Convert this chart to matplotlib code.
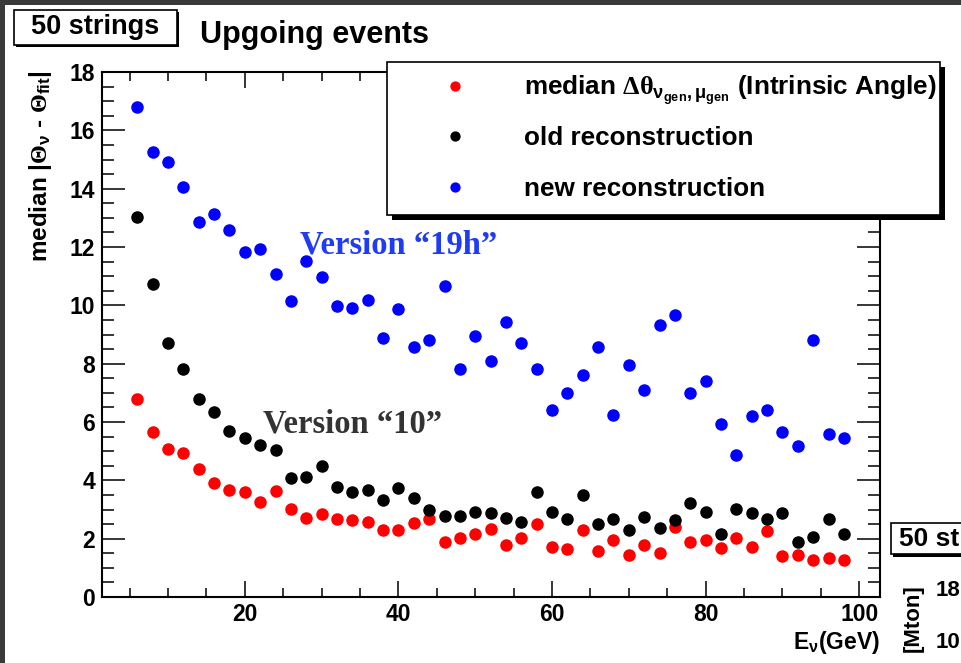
import numpy as np
import matplotlib; matplotlib.use("Agg")
import matplotlib.pyplot as plt
from matplotlib.patches import Rectangle
from matplotlib.ticker import MultipleLocator

plt.rcParams['font.family'] = ['Liberation Sans', 'DejaVu Sans']
plt.rcParams['font.weight'] = 'bold'
plt.rcParams['mathtext.fontset'] = 'custom'
plt.rcParams['mathtext.rm'] = 'Liberation Sans:bold'
plt.rcParams['mathtext.it'] = 'Liberation Sans:bold'
plt.rcParams['mathtext.bf'] = 'Liberation Sans:bold'
plt.rcParams['mathtext.sf'] = 'Liberation Serif'

# --- data ---
energy = list(range(6, 100, 2))   # E_nu (GeV)

intrinsic = [6.79, 5.65, 5.07, 4.93, 4.40, 3.92, 3.67, 3.59, 3.26, 3.63,
             3.01, 2.72, 2.83, 2.67, 2.63, 2.58, 2.30, 2.30, 2.54, 2.67,
             1.88, 2.01, 2.17, 2.34, 1.77, 2.01, 2.49, 1.72, 1.64, 2.30,
             1.59, 1.97, 1.44, 1.77, 1.50, 2.40, 1.88, 1.97, 1.68, 2.01,
             1.72, 2.25, 1.40, 1.44, 1.26, 1.35, 1.26]

old_reco = [13.02, 10.72, 8.72, 7.81, 6.80, 6.35, 5.70, 5.45, 5.22, 5.03,
            4.08, 4.12, 4.50, 3.78, 3.59, 3.68, 3.31, 3.74, 3.39, 2.98,
            2.78, 2.78, 2.91, 2.88, 2.72, 2.58, 3.59, 2.93, 2.69, 3.50,
            2.49, 2.69, 2.30, 2.73, 2.36, 2.64, 3.21, 2.93, 2.17, 3.02,
            2.88, 2.67, 2.88, 1.88, 2.06, 2.69, 2.17]

new_reco = [16.80, 15.27, 14.92, 14.07, 12.87, 13.12, 12.58, 11.82, 11.92, 11.06,
            10.15, 11.53, 10.96, 9.97, 9.92, 10.19, 8.87, 9.86, 8.58, 8.81,
            10.67, 7.81, 8.95, 8.09, 9.43, 8.72, 7.81, 6.41, 6.98, 7.61,
            8.58, 6.23, 7.95, 7.09, 9.32, 9.67, 6.99, 7.42, 5.93, 4.88,
            6.22, 6.41, 5.65, 5.18, 8.81, 5.60, 5.46]

labels = [r"median $\mathsf{\Delta\theta}_{\nu_{gen},\mu_{gen}}$ (Intrinsic Angle)",
          "old reconstruction", "new reconstruction"]
colors = ["#ff0000", "#000000", "#0000ff"]

W, H = 961, 663
fig = plt.figure(figsize=(W / 100, H / 100), dpi=100)
fig.patch.set_facecolor("white")

def fx(px): return px / W
def fy(py): return 1 - py / H

ax = fig.add_axes([fx(102), fy(597), fx(880) - fx(102), fy(72) - fy(597)])

handles = []
for vals, c, lab in zip([intrinsic, old_reco, new_reco], colors, labels):
    h, = ax.plot(energy, vals, "o", ms=8, color=c, mec=c, ls="none", label=lab)
    handles.append(h)

ax.set_xlim(1.4, 102.7)
ax.set_ylim(0, 18)
ax.xaxis.set_major_locator(MultipleLocator(20))
ax.xaxis.set_minor_locator(MultipleLocator(5))
ax.yaxis.set_major_locator(MultipleLocator(2))
ax.yaxis.set_minor_locator(MultipleLocator(0.5))
ax.tick_params(which="both", direction="in", top=True, right=True, width=1.1,
               labelsize=16.5, pad=5)
ax.tick_params(axis="x", pad=4)
ax.tick_params(axis="y", which="major", length=16.5)
ax.tick_params(axis="y", which="minor", length=8.6)
ax.tick_params(axis="x", which="major", length=11.5)
ax.tick_params(axis="x", which="minor", length=6.5)
for lab in ax.get_xticklabels() + ax.get_yticklabels():
    lab.set_fontweight("bold")
for s in ax.spines.values():
    s.set_linewidth(1.5)

ax.text(27.2, 12.07, "Version \u201c19h\u201d", color="#1f3cf5", fontsize=23.5,
        family="Liberation Serif", weight="bold", va="center", ha="left")
ax.text(22.3, 5.93, "Version \u201c10\u201d", color="#333333", fontsize=23.5,
        family="Liberation Serif", weight="bold", va="center", ha="left")

# axis titles (ROOT style)
fig.text(fx(880), fy(643), r"E$_{\nu}$(GeV)", ha="right", va="center", fontsize=16.5)
fig.text(fx(41), fy(70), r"median |$\mathsf{\Theta}_{\nu}$ - $\mathsf{\Theta}_{fit}$|",
         rotation=90, ha="center", va="top", fontsize=17.5)

# title and label boxes
fig.text(fx(200), fy(35), "Upgoing events", ha="left", va="center", fontsize=22)
fig.patches.append(Rectangle((fx(16), fy(47)), fx(163), fy(10) - fy(47) - 0.003,
                             transform=fig.transFigure, facecolor="black", zorder=1))
fig.patches.append(Rectangle((fx(14), fy(45)), fx(163), fy(10) - fy(45),
                             transform=fig.transFigure, facecolor="white",
                             edgecolor="black", lw=1.2, zorder=2))
fig.text(fx(95), fy(27), "50 strings", ha="center", va="center", fontsize=19.5, zorder=3)

# legend box with shadow
fig.patches.append(Rectangle((fx(392), fy(220)), fx(553), fy(67) - fy(220),
                             transform=fig.transFigure, facecolor="black", zorder=4))
fig.patches.append(Rectangle((fx(387), fy(215)), fx(553), fy(62) - fy(215),
                             transform=fig.transFigure, facecolor="white",
                             edgecolor="black", lw=1.2, zorder=5))
leg_fs = 18.8
em = leg_fs * 100 / 72
for h, ypx in zip(handles, [90, 138, 189]):
    leg = fig.legend(handles=[h], loc="center left",
                     bbox_to_anchor=(fx(455 - em / 2), fy(ypx)),
                     frameon=False, fontsize=leg_fs, handlelength=1.0,
                     handletextpad=(524 - 455 - em / 2) / em,
                     borderpad=0, borderaxespad=0, markerscale=0.8)
    leg.set_zorder(6)

# neighbouring panel peeking in at the bottom right
fig.patches.append(Rectangle((fx(893), fy(557)), fx(70), fy(523) - fy(557),
                             transform=fig.transFigure, facecolor="black", zorder=1))
fig.patches.append(Rectangle((fx(891), fy(554)), fx(72), fy(523) - fy(554),
                             transform=fig.transFigure, facecolor="white",
                             edgecolor="black", lw=1.2, zorder=2))
fig.text(fx(899), fy(539), "50 st", ha="left", va="center", fontsize=19, zorder=3)
fig.text(fx(913), fy(618), "[Mton]", rotation=90, ha="center", va="center", fontsize=16)
fig.text(fx(936), fy(590), "18", ha="left", va="center", fontsize=16)
fig.text(fx(936), fy(643), "10", ha="left", va="center", fontsize=16)

# dark slide edges of the screenshot
fig.patches.append(Rectangle((0, fy(5)), 1, fy(0) - fy(5), transform=fig.transFigure,
                             facecolor="#3a3a3a", zorder=10))
fig.patches.append(Rectangle((0, 0), fx(5), 1, transform=fig.transFigure,
                             facecolor="#3a3a3a", zorder=10))

fig.savefig("out.png", dpi=100)
